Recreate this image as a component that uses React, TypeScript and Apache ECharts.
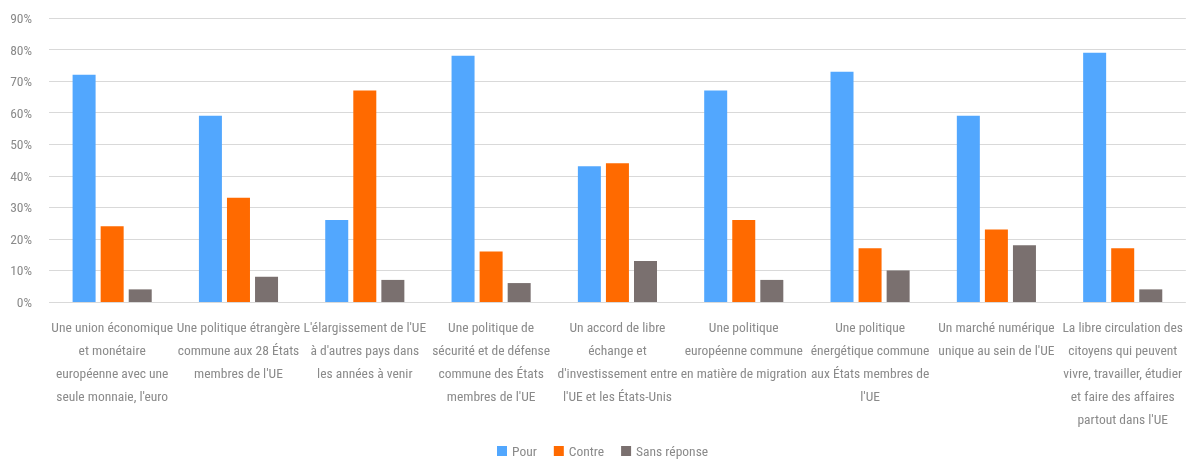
import React, { useEffect, useRef } from "react";
import * as echarts from "echarts";

const categories = [
  "Une union économique\net monétaire\neuropéenne avec une\nseule monnaie, l'euro",
  "Une politique étrangère\ncommune aux 28 États\nmembres de l'UE",
  "L'élargissement de l'UE\nà d'autres pays dans\nles années à venir",
  "Une politique de\nsécurité et de défense\ncommune des États\nmembres de l'UE",
  "Un accord de libre\néchange et\nd'investissement entre\nl'UE et les États-Unis",
  "Une politique\neuropéenne commune\nen matière de migration",
  "Une politique\nénergétique commune\naux États membres de\nl'UE",
  "Un marché numérique\nunique au sein de l'UE",
  "La libre circulation des\ncitoyens qui peuvent\nvivre, travailler, étudier\net faire des affaires\npartout dans l'UE",
];

const pour = [72, 59, 26, 78, 43, 67, 73, 59, 79];
const contre = [24, 33, 67, 16, 44, 26, 17, 23, 17];
const sansReponse = [4, 8, 7, 6, 13, 7, 10, 18, 4];

const seriesNames = ["Pour", "Contre", "Sans réponse"];
const colors = ["#52a7fe", "#ff6a00", "#7a706f"];

const FONT = "'Roboto Condensed', 'DejaVu Sans Condensed', sans-serif";
const TEXT_COLOR = "#8a8a8a";

export default function App() {
  const ref = useRef<HTMLDivElement>(null);
  useEffect(() => {
    if (!ref.current) return;
    const chart = echarts.init(ref.current, undefined, { renderer: "svg" });
    const data = [pour, contre, sansReponse];
    chart.setOption({
      animation: false,
      textStyle: { fontFamily: FONT },
      grid: { left: 49, right: 0, top: 18, bottom: 159, containLabel: false },
      legend: {
        data: seriesNames,
        left: 497,
        top: 444,
        padding: 0,
        icon: "rect",
        itemWidth: 10,
        itemHeight: 10,
        itemGap: 17,
        textStyle: { color: TEXT_COLOR, fontSize: 13.5, fontFamily: FONT },
      },
      xAxis: {
        type: "category",
        data: categories,
        axisLine: { show: false },
        axisTick: { show: false },
        axisLabel: {
          interval: 0,
          color: TEXT_COLOR,
          fontSize: 13.5,
          lineHeight: 23,
          margin: 13,
          fontFamily: FONT,
        },
      },
      yAxis: {
        type: "value",
        min: 0,
        max: 90,
        interval: 10,
        axisLine: { show: false },
        axisTick: { show: false },
        axisLabel: {
          formatter: "{value}%",
          color: TEXT_COLOR,
          fontSize: 13.5,
          margin: 17,
          fontFamily: FONT,
        },
        splitLine: { lineStyle: { color: "#d9d9d9", width: 1 } },
      },
      series: seriesNames.map((name, i) => ({
        name,
        type: "bar",
        data: data[i],
        barWidth: 23,
        barGap: "22%",
        itemStyle: { color: colors[i] },
      })),
    });
    return () => chart.dispose();
  }, []);
  return <div ref={ref} style={{ position: "fixed", left: 0, top: 0, width: 1186, height: 461 }} />;
}
